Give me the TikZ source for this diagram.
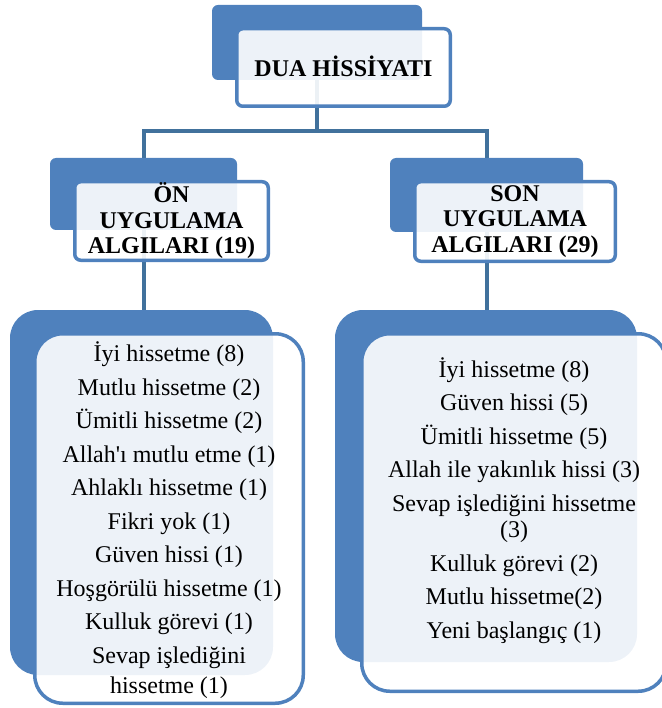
\documentclass[tikz,border=0pt]{standalone}
\usepackage{fontspec}
\setmainfont{Liberation Serif}
\usepackage{tikz}
\usepackage{xcolor}
\usetikzlibrary{positioning, calc, backgrounds}
\definecolor{accblue}{HTML}{4F81BD}
\definecolor{linkblue}{HTML}{41719C}

\begin{document}
\begin{tikzpicture}[x=1pt, y=-1pt,
    backbox/.style={fill=accblue, draw=none, rounded corners=6pt, inner sep=0pt},
    frontbox/.style={draw=accblue, line width=3.5pt, fill=white, fill opacity=0.9, text opacity=1,
        rounded corners=6pt, inner sep=0pt, align=center,
        font=\bfseries\fontsize{24}{25.5}\selectfont},
    bigback/.style={backbox, rounded corners=28pt},
    bigfront/.style={frontbox, rounded corners=28pt, font=\fontsize{24}{33.5}\selectfont},
    listtext/.style={align=center, inner sep=0pt, font=\fontsize{24}{33.5}\selectfont},
    conn/.style={draw=linkblue, line width=4pt}]
\useasboundingbox (0,0) rectangle (661,708);

% back plates
\node[backbox, minimum width=210pt, minimum height=75pt] (tback) at (317,42.5) {};
\node[backbox, minimum width=187pt, minimum height=72pt] (oback) at (143.5,194) {};
\node[backbox, minimum width=193pt, minimum height=74pt] (sback) at (486.5,195) {};
\node[bigback, minimum width=263pt, minimum height=365pt] (lback) at (141.5,492.5) {};
\node[bigback, minimum width=302pt, minimum height=352pt] (rback) at (486,486) {};

% front boxes
\node[frontbox, minimum width=213.5pt, minimum height=77.5pt] (title) at (343.5,67.5) {\raisebox{3pt}{DUA HİSSİYATI}};
\node[frontbox, minimum width=193.5pt, minimum height=78.5pt] (on) at (171.5,221) {ÖN\\UYGULAMA\\ALGILARI (19)};
\node[frontbox, minimum width=200.5pt, minimum height=79.5pt] (son) at (515,221.5) {SON\\UYGULAMA\\ALGILARI (29)};
\node[bigfront, minimum width=268.5pt, minimum height=369.5pt] (lfront) at (169,518.5) {};
\node[bigfront, minimum width=304.5pt, minimum height=357.5pt] (rfront) at (514,512.5) {};

\node[listtext] (llist) at ($(lfront.center)+(0,2)$) {İyi hissetme (8)\\Mutlu hissetme (2)\\Ümitli hissetme (2)\\
    Allah\textquotesingle ı mutlu etme (1)\\Ahlaklı hissetme (1)\\Fikri yok (1)\\Güven hissi (1)\\
    Hoşgörülü hissetme (1)\\Kulluk görevi (1)\\Sevap işlediğini\\[-3pt]hissetme (1)};
\node[listtext] (rlist) at ($(rfront.center)+(0,-12)$) {İyi hissetme (8)\\Güven hissi (5)\\Ümitli hissetme (5)\\
    Allah ile yakınlık hissi (3)\\Sevap işlediğini hissetme\\[-7pt](3)\\Kulluk görevi (2)\\
    Mutlu hissetme(2)\\Yeni başlangıç (1)};

% connectors
\begin{scope}[on background layer]
\coordinate (bar) at (317,131);
\draw[conn] (tback.south) -- (bar);
\draw[conn] (oback.north) |- (bar) -| (sback.north);
\draw[conn] (oback.south) -- (lback.north -| oback.south);
\draw[conn] (sback.south) -- (rback.north -| sback.south);
\end{scope}
\end{tikzpicture}
\end{document}
